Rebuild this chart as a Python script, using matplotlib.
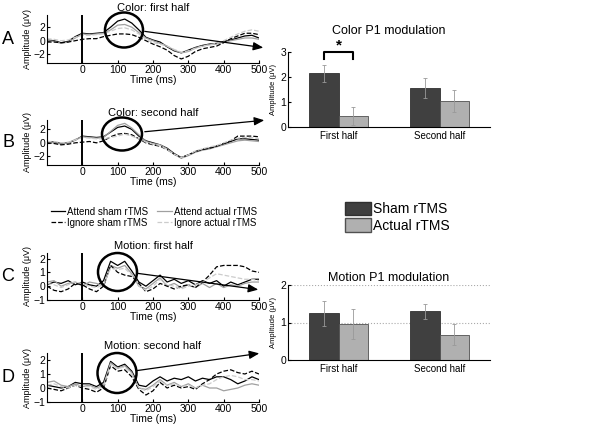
import matplotlib
matplotlib.use('Agg')
import matplotlib.pyplot as plt
import numpy as np
from matplotlib.patches import Ellipse, Patch
from matplotlib.lines import Line2D

plt.rcParams['font.family'] = ['Liberation Sans', 'DejaVu Sans']

# ERP time axis (ms)
times = list(range(-100, 501, 20))

# Color: first half
A_att_sham = [0.1, 0.0, -0.3, -0.1, 0.6, 1.1, 1.0, 1.1, 1.2, 2.0, 2.9, 3.2, 2.6, 1.6, 0.5, 0.1, -0.2, -0.9, -1.5, -1.8, -1.4, -1.0, -0.7, -0.5, -0.4, -0.1, 0.1, 0.4, 0.7, 0.8, 0.4]
A_att_act = [0.0, -0.1, -0.4, -0.2, 0.4, 1.0, 0.9, 1.0, 1.1, 1.6, 2.3, 2.4, 2.0, 1.2, 0.4, 0.0, -0.4, -0.8, -1.4, -1.8, -1.6, -1.1, -0.8, -0.6, -0.5, -0.2, 0.0, 0.2, 0.4, 0.4, 0.2]
A_ign_sham = [-0.2, -0.2, -0.3, -0.2, 0.0, 0.2, 0.3, 0.3, 0.6, 0.8, 1.0, 1.0, 0.9, 0.5, 0.0, -0.5, -0.9, -1.4, -2.2, -2.7, -2.3, -1.6, -1.2, -1.0, -0.8, -0.3, 0.3, 0.7, 1.1, 1.1, 0.9]
A_ign_act = [0.3, 0.2, 0.0, 0.1, 0.5, 0.8, 0.8, 0.9, 1.0, 1.4, 1.8, 1.9, 1.6, 1.0, 0.2, -0.3, -0.5, -0.8, -1.3, -1.7, -1.5, -1.1, -0.8, -0.6, -0.4, 0.0, 0.5, 1.0, 1.4, 1.6, 1.4]

# Color: second half
B_att_sham = [0.2, 0.1, -0.1, 0.0, 0.4, 1.0, 0.9, 0.8, 0.9, 1.6, 2.3, 2.5, 2.0, 1.0, 0.3, 0.0, -0.3, -0.8, -1.6, -2.2, -1.8, -1.3, -1.0, -0.8, -0.5, -0.2, 0.2, 0.6, 0.6, 0.5, 0.4]
B_att_act = [0.1, 0.0, -0.2, 0.0, 0.5, 0.9, 0.8, 0.7, 0.8, 1.7, 2.6, 2.9, 2.2, 1.2, 0.2, -0.1, -0.3, -0.9, -1.7, -2.3, -1.9, -1.4, -1.1, -0.9, -0.6, -0.3, 0.0, 0.3, 0.4, 0.3, 0.2]
B_ign_sham = [0.0, -0.1, -0.3, -0.2, 0.0, 0.1, 0.2, 0.0, 0.3, 0.9, 1.3, 1.4, 1.2, 0.6, 0.0, -0.3, -0.5, -1.0, -1.7, -2.2, -1.8, -1.3, -1.0, -0.8, -0.5, -0.1, 0.3, 1.0, 1.0, 1.0, 0.9]
B_ign_act = [0.2, 0.2, 0.0, 0.1, 0.4, 0.8, 0.7, 0.6, 0.6, 0.8, 1.0, 1.3, 1.0, 0.6, 0.1, -0.2, -0.4, -1.0, -1.7, -2.2, -1.8, -1.2, -0.9, -0.6, -0.4, 0.0, 0.4, 0.7, 0.8, 0.8, 0.6]

# Motion: first half
C_att_sham = [0.1, 0.3, 0.2, 0.4, 0.1, 0.3, 0.1, 0.0, 0.4, 1.8, 1.5, 1.8, 1.1, 0.3, 0.0, 0.4, 0.8, 0.3, 0.5, 0.2, 0.4, 0.1, 0.4, 0.2, 0.4, 0.0, 0.3, 0.1, 0.3, 0.5, 0.5]
C_att_act = [0.3, 0.4, 0.0, 0.2, 0.3, 0.0, 0.3, 0.2, 0.0, 1.5, 1.3, 1.5, 0.9, 0.0, -0.2, 0.2, 0.6, 0.0, 0.2, -0.1, 0.1, -0.1, 0.2, -0.1, 0.2, -0.1, 0.1, 0.0, 0.2, 0.3, 0.3]
C_ign_sham = [0.0, -0.3, -0.4, -0.2, 0.2, 0.1, -0.2, -0.4, 0.0, 1.5, 1.0, 0.8, 0.7, 0.2, -0.4, -0.2, 0.2, 0.0, -0.2, 0.0, 0.1, -0.1, 0.3, 0.8, 1.4, 1.5, 1.5, 1.5, 1.4, 1.1, 1.0]
C_ign_act = [0.2, 0.1, -0.1, 0.1, 0.3, 0.2, 0.0, -0.1, 0.1, 1.3, 1.2, 1.3, 0.8, 0.0, -0.3, 0.0, 0.5, 0.1, 0.0, -0.2, 0.0, 0.1, 0.3, 0.6, 0.9, 0.8, 0.7, 0.6, 0.5, 0.5, 0.4]

# Motion: second half
D_att_sham = [0.2, 0.1, 0.0, 0.1, 0.4, 0.3, 0.3, 0.1, 0.4, 1.9, 1.5, 1.7, 1.2, 0.2, 0.1, 0.5, 0.8, 0.5, 0.7, 0.6, 0.8, 0.5, 0.7, 0.6, 0.8, 0.8, 0.6, 0.3, 0.5, 0.8, 0.6]
D_att_act = [0.4, 0.5, 0.2, 0.1, 0.3, 0.1, 0.2, 0.0, 0.2, 1.8, 1.4, 1.6, 1.1, 0.0, -0.1, 0.2, 0.6, 0.2, 0.4, 0.1, 0.3, 0.0, 0.2, 0.0, 0.0, -0.2, -0.1, 0.0, 0.2, 0.3, 0.2]
D_ign_sham = [0.0, -0.1, -0.2, 0.0, 0.2, 0.0, -0.1, -0.3, 0.0, 1.6, 1.2, 1.3, 0.8, -0.1, -0.5, -0.2, 0.4, 0.0, 0.2, 0.0, 0.1, -0.1, 0.3, 0.6, 1.0, 1.2, 1.3, 1.1, 1.0, 1.2, 1.0]
D_ign_act = [0.2, 0.3, 0.1, 0.0, 0.2, 0.1, 0.1, -0.1, 0.1, 1.7, 1.4, 1.5, 1.0, 0.0, -0.2, 0.1, 0.5, 0.2, 0.3, 0.1, 0.2, 0.0, 0.2, 0.3, 0.6, 0.8, 0.9, 0.8, 0.6, 0.6, 0.5]

# P1 modulation bars
halves = ['First half', 'Second half']
color_sham = [2.15, 1.55]
color_sham_err = [0.35, 0.4]
color_act = [0.45, 1.05]
color_act_err = [0.35, 0.45]
motion_sham = [1.25, 1.3]
motion_sham_err = [0.33, 0.2]
motion_act = [0.97, 0.68]
motion_act_err = [0.4, 0.27]

W, H = 600, 426
fig = plt.figure(figsize=(6, 4.26), dpi=100)

def px(l, t, r, b):
    return [l / W, 1 - b / H, (r - l) / W, (b - t) / H]

styles = [('k', '-'), ('#a0a0a0', '-'), ('k', '--'), ('#cccccc', '--')]

def erp_panel(rect, series, title, letter, ylim, yticks):
    ax = fig.add_axes(rect)
    for (c, ls), y in zip(styles, series):
        ax.plot(times, y, color=c, ls=ls, lw=0.9)
    ax.axvline(0, color='k', lw=1.4)
    ax.set_xlim(-100, 500)
    ax.set_ylim(*ylim)
    ax.set_xticks([0, 100, 200, 300, 400, 500])
    ax.set_yticks(yticks)
    ax.tick_params(direction='in', labelsize=7.5, length=2, pad=1.5)
    for s in ['top', 'right']:
        ax.spines[s].set_visible(False)
    ax.spines['left'].set_linewidth(0.8)
    ax.spines['bottom'].set_linewidth(0.8)
    ax.set_xlabel('Time (ms)', fontsize=7.5, labelpad=0)
    ax.set_ylabel('Amplitude (\u03bcV)', fontsize=6.5, labelpad=1)
    ax.set_title(title, fontsize=8, pad=3)
    # panel letter
    fig.text(8 / W, rect[1] + rect[3] / 2, letter, fontsize=13, va='center', ha='center')
    return ax

axA = erp_panel(px(47, 15, 259, 63), [A_att_sham, A_att_act, A_ign_sham, A_ign_act],
                'Color: first half', 'A', (-3.3, 3.8), [-2, 0, 2])
axB = erp_panel(px(47, 120, 259, 165), [B_att_sham, B_att_act, B_ign_sham, B_ign_act],
                'Color: second half', 'B', (-3.3, 3.4), [-2, 0, 2])
axC = erp_panel(px(47, 253, 259, 300), [C_att_sham, C_att_act, C_ign_sham, C_ign_act],
                'Motion: first half', 'C', (-1, 2.4), [-1, 0, 1, 2])
axD = erp_panel(px(47, 353, 259, 402), [D_att_sham, D_att_act, D_ign_sham, D_ign_act],
                'Motion: second half', 'D', (-1, 2.5), [-1, 0, 1, 2])

# ERP legend
handles = [Line2D([], [], color=c, ls=ls, lw=0.9) for c, ls in styles]
labels = ['Attend sham rTMS', 'Attend actual rTMS', 'Ignore sham rTMS', 'Ignore actual rTMS']
order = [0, 2, 1, 3]
fig.legend([handles[i] for i in order], [labels[i] for i in order], ncol=2,
           loc='upper left', bbox_to_anchor=(46 / W, 1 - 202 / H), frameon=False,
           fontsize=7, handlelength=1.5, handletextpad=0.2, columnspacing=0.9,
           labelspacing=0.1, borderpad=0)

def bar_panel(rect, sham, sham_err, act, act_err, title, ylim, yticks, grid, tpad):
    ax = fig.add_axes(rect)
    x = np.arange(1, len(halves) + 1)
    w = 0.29
    ax.bar(x - w / 2, sham, w, color='#404040', edgecolor='#303030', lw=0.6)
    ax.bar(x + w / 2, act, w, color='#b0b0b0', edgecolor='#505050', lw=0.6)
    ax.errorbar(x - w / 2, sham, yerr=sham_err, fmt='none', ecolor='#999999', elinewidth=0.6, capsize=1.2, capthick=0.6)
    ax.errorbar(x + w / 2, act, yerr=act_err, fmt='none', ecolor='#999999', elinewidth=0.6, capsize=1.2, capthick=0.6)
    ax.set_xlim(0.5, 2.5)
    ax.set_ylim(*ylim)
    ax.set_xticks(x)
    ax.set_xticklabels(halves)
    ax.set_yticks(yticks)
    ax.tick_params(axis='x', length=0, labelsize=7, pad=3)
    ax.tick_params(axis='y', direction='in', length=2, labelsize=7.5, pad=1.5)
    for s in ['top', 'right']:
        ax.spines[s].set_visible(False)
    ax.spines['left'].set_linewidth(0.8)
    ax.spines['bottom'].set_linewidth(0.8)
    if grid:
        for g in yticks[1:]:
            ax.axhline(g, color='#aaaaaa', ls=':', lw=0.8, zorder=0)
    ax.set_ylabel('Amplitude (\u03bcV)', fontsize=5.5, labelpad=2)
    ax.set_title(title, fontsize=9, pad=tpad)
    return ax

axE = bar_panel(px(288, 52, 490, 127), color_sham, color_sham_err, color_act, color_act_err,
                'Color P1 modulation', (0, 3), [0, 1, 2, 3], False, 13)
axF = bar_panel(px(288, 285, 490, 360), motion_sham, motion_sham_err, motion_act, motion_act_err,
                'Motion P1 modulation', (0, 2), [0, 1, 2], True, 3)

# significance bracket on Color P1 first half
bx = [1 - 0.145, 1 - 0.145, 1 + 0.145, 1 + 0.145]
by = [2.72, 3.0, 3.0, 2.72]
axE.plot(bx, by, color='k', lw=1.5, clip_on=False)
axE.text(1, 3.0, '*', ha='center', va='bottom', fontsize=11, fontweight='bold')

# bar legend
fig.legend([Patch(facecolor='#404040', edgecolor='#303030'), Patch(facecolor='#b0b0b0', edgecolor='#505050')],
           ['Sham rTMS', 'Actual rTMS'], loc='upper left', bbox_to_anchor=(338 / W, 1 - 195 / H),
           frameon=False, fontsize=10, handlelength=1.9, handleheight=1.1, handletextpad=0.15,
           labelspacing=0.15, borderpad=0)

# circles and arrows linking ERP peaks to bar charts (pixel overlay)
ov = fig.add_axes([0, 0, 1, 1], zorder=10)
ov.set_xlim(0, W)
ov.set_ylim(H, 0)
ov.axis('off')
ov.patch.set_alpha(0)
circles = [(124, 30, 38, 35), (122, 134, 40, 33), (117.5, 272, 39, 38), (117, 373, 39, 40)]
for cx, cy, cw, ch in circles:
    ov.add_patch(Ellipse((cx, cy), cw, ch, fill=False, ec='k', lw=1.8))
arrows = [((142, 31), (266, 48)), ((142, 132), (267, 120)), ((135, 273), (261, 290)), ((134, 371), (262, 353))]
for (x0, y0), (x1, y1) in arrows:
    ov.annotate('', xy=(x1, y1), xytext=(x0, y0),
                arrowprops=dict(arrowstyle='-|>,head_length=0.6,head_width=0.25', color='k', lw=0.9))

fig.savefig('out.png', dpi=100)
